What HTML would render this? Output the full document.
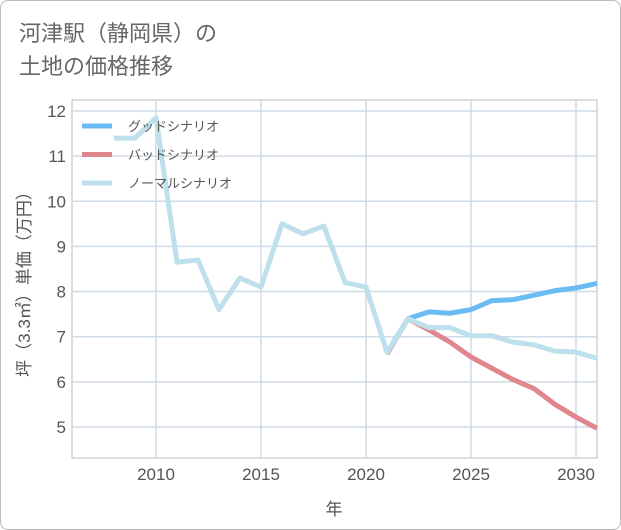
<!DOCTYPE html>
<html><head><meta charset="utf-8"><style>
body{margin:0;background:#fff;}
#wrap{position:relative;width:619px;height:528px;border:1px solid #bbb;border-radius:8px;overflow:hidden;background:#fff;font-family:"Liberation Sans","Noto Sans CJK JP",sans-serif;}
#title{position:absolute;left:18px;top:16px;font-size:22px;line-height:33px;color:#666;}
</style></head><body>
<div id="wrap">
<div id="title">河津駅（静岡県）の<br>土地の価格推移</div>
<svg id="chart" width="621" height="530" style="position:absolute;left:-1px;top:-1px"></svg>
</div>
<script>
const years=[2008,2009,2010,2011,2012,2013,2014,2015,2016,2017,2018,2019,2020,2021,2022,2023,2024,2025,2026,2027,2028,2029,2030,2031];
const normal=[11.4,11.4,11.85,8.65,8.7,7.6,8.3,8.1,9.5,9.28,9.45,8.2,8.1,6.65,7.4,7.2,7.2,7.02,7.02,6.88,6.82,6.68,6.66,6.52];
const goodYears=[2021,2022,2023,2024,2025,2026,2027,2028,2029,2030,2031];
const good=[6.65,7.4,7.55,7.52,7.6,7.8,7.82,7.92,8.02,8.08,8.18];
const bad=[6.62,7.4,7.15,6.88,6.55,6.3,6.05,5.85,5.5,5.22,4.97];
const xTicks=[2010,2015,2020,2025,2030];
const yTicks=[5,6,7,8,9,10,11,12];
const NS="http://www.w3.org/2000/svg";
const svg=document.getElementById('chart');
const X=y=>156+(y-2010)*21;
const Y=v=>111+(12-v)*45.14;
function mk(t,a){const e=document.createElementNS(NS,t);for(const k in a)e.setAttribute(k,a[k]);svg.appendChild(e);return e;}
const L=72,R=597,T=100,B=458;
mk('rect',{x:L,y:T,width:R-L,height:B-T,fill:'#fff',stroke:'#bbb'});
xTicks.forEach(t=>{const g=mk('line',{x1:X(t),x2:X(t),y1:T,y2:B,stroke:'#cfdbe6','stroke-width':1.5});

const l=mk('text',{x:X(t),y:B+22,'text-anchor':'middle','font-size':17,fill:'#555'});l.textContent=t;
});
yTicks.forEach(t=>{const g=mk('line',{x1:L,x2:R,y1:Y(t),y2:Y(t),stroke:'#cfdbe6','stroke-width':1.5});

const l=mk('text',{x:L-6,y:Y(t)+6,'text-anchor':'end','font-size':17,fill:'#555'});l.textContent=t;
});
const xt=mk('text',{x:334,y:515,'text-anchor':'middle','font-size':17,fill:'#555'});xt.textContent='年';

const yt=mk('text',{x:0,y:0,transform:'translate(30,280) rotate(-90)','text-anchor':'middle','font-size':17,fill:'#555'});yt.textContent='坪（3.3㎡）単価（万円）';

function line(xs,vs,c,n){const p=mk('polyline',{points:xs.map((y,i)=>X(y)+','+Y(vs[i])).join(' '),fill:'none',stroke:c,'stroke-width':5,'stroke-linejoin':'round'});
}
line(goodYears,bad,'#e0868d','bad-scenario-line');
line(goodYears,good,'#6bbcf2','good-scenario-line');
line(years,normal,'#bde0ec','normal-scenario-line');
[['グッドシナリオ','#6bbcf2'],['バッドシナリオ','#e0868d'],['ノーマルシナリオ','#bde0ec']].forEach((e,i)=>{
const y=126+i*28.5;
const s=mk('line',{x1:82,x2:112,y1:y,y2:y,stroke:e[1],'stroke-width':5});

const t=mk('text',{x:128,y:y+5,'font-size':13,fill:'#555'});t.textContent=e[0];
});
</script>
</body></html>
